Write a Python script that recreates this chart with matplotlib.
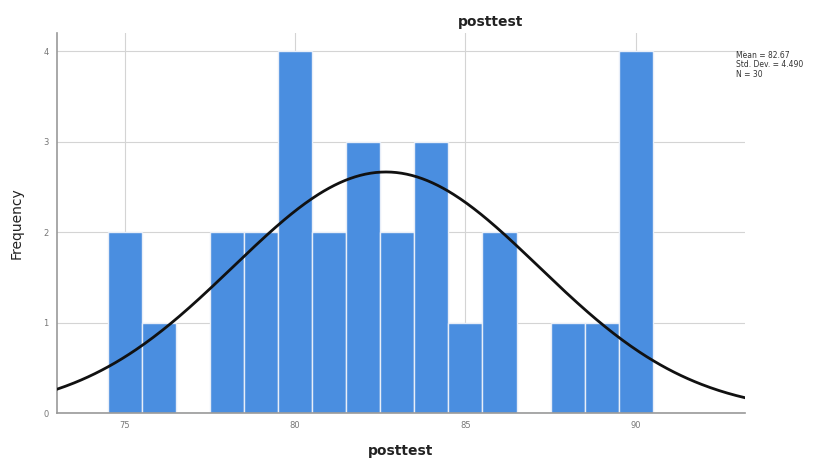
import numpy as np
import matplotlib.pyplot as plt

# posttest histogram (bin width 1, centred on whole scores)
scores = [75, 76, 77, 78, 79, 80, 81, 82, 83, 84, 85, 86, 87, 88, 89, 90]
counts = [2, 1, 0, 2, 2, 4, 2, 3, 2, 3, 1, 2, 0, 1, 1, 4]
x_ticks = [75, 80, 85, 90]
y_ticks = [0, 1, 2, 3, 4]

scores_arr = np.repeat(scores, counts)
n = len(scores_arr)
mean = scores_arr.mean()
sd = scores_arr.std(ddof=1)

fig = plt.figure(figsize=(8.34, 4.61), dpi=100)
ax = fig.add_axes([0.068, 0.104, 0.825, 0.824])

ax.bar(scores, counts, width=1.0, color="#4a8ee0", edgecolor="#e8eef8",
       linewidth=1.0, zorder=2)

xs = np.linspace(73.0, 93.2, 400)
curve = n * 1.0 / (sd * np.sqrt(2 * np.pi)) * np.exp(-0.5 * ((xs - mean) / sd) ** 2)
ax.plot(xs, curve, color="#111111", linewidth=2.0, zorder=3)

ax.set_xlim(73.0, 93.2)
ax.set_ylim(0, 4.2)
ax.set_xticks(x_ticks)
ax.set_yticks(y_ticks)
ax.tick_params(labelsize=6, colors="#777777", length=0, pad=6)
ax.grid(True, color="#d4d4d4", linewidth=0.8, zorder=0)
ax.set_axisbelow(True)
for side in ["top", "right"]:
    ax.spines[side].set_visible(False)
for side in ["left", "bottom"]:
    ax.spines[side].set_color("#999999")
    ax.spines[side].set_linewidth(1.2)

ax.set_xlabel("posttest", fontsize=10, fontweight="bold", color="#222222", labelpad=10)
ax.set_ylabel("Frequency", fontsize=10, color="#222222", labelpad=14)
fig.text(0.588, 0.952, "posttest", ha="center", va="center", fontsize=10,
         fontweight="bold", color="#222222")

stats = f"Mean = {mean:.2f}\nStd. Dev. = {sd:.3f}\nN = {n}"
fig.text(0.882, 0.89, stats, ha="left", va="top", fontsize=5.5,
         color="#333333", linespacing=1.1)

fig.savefig("out.png", dpi=100)
